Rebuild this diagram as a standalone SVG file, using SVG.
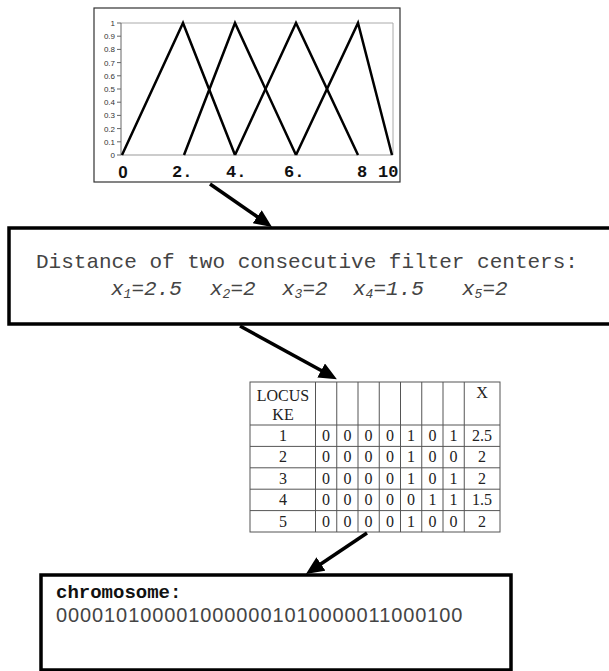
<svg xmlns="http://www.w3.org/2000/svg" width="609" height="671" viewBox="0 0 609 671">
<style>
.ylab{font-family:"Liberation Sans",Arial,sans-serif;font-size:8px;fill:#333;text-anchor:end}
.xlab{font-family:"Liberation Mono","Courier New",monospace;font-size:17px;font-weight:bold;fill:#111}
.tri{fill:none;stroke:#000;stroke-width:2.5;stroke-linejoin:miter}
.mono{font-family:"Liberation Mono","Courier New",monospace;font-size:21px;fill:#444}
.it{font-style:italic}
.sub{font-size:13px}
.cell{font-family:"Liberation Serif","Times New Roman",serif;font-size:16px;fill:#222;text-anchor:middle}
.grid{stroke:#555;stroke-width:1;fill:none}
.box{fill:#fff;stroke:#000;stroke-width:3.5}
.arrow{stroke:#000;stroke-width:3.5;fill:none;marker-end:url(#ah)}
</style>
<defs>
<marker id="ah" markerUnits="userSpaceOnUse" markerWidth="20" markerHeight="16" refX="10" refY="8" orient="auto">
<path d="M0,0 L18,8 L0,16 z" fill="#000"/>
</marker>
</defs>
<rect width="609" height="671" fill="#fff"/>

<g id="chart">
<rect x="94" y="8" width="306" height="174" fill="#fff" stroke="#333" stroke-width="1.2"/>
<path d="M121,23 H393 V155" fill="none" stroke="#aaa" stroke-width="1"/>
<path d="M121,155 H393" fill="none" stroke="#999" stroke-width="1"/>
<path d="M121,23 V155" fill="none" stroke="#666" stroke-width="1"/>
<path d="M117,23H121M117,36.2H121M117,49.4H121M117,62.6H121M117,75.8H121M117,89H121M117,102.2H121M117,115.4H121M117,128.6H121M117,141.8H121M117,155H121" stroke="#666" stroke-width="1"/>
<text class="ylab" x="115" y="26">1</text>
<text class="ylab" x="115" y="39.2">0.9</text>
<text class="ylab" x="115" y="52.4">0.8</text>
<text class="ylab" x="115" y="65.6">0.7</text>
<text class="ylab" x="115" y="78.8">0.6</text>
<text class="ylab" x="115" y="92">0.5</text>
<text class="ylab" x="115" y="105.2">0.4</text>
<text class="ylab" x="115" y="118.4">0.3</text>
<text class="ylab" x="115" y="131.6">0.2</text>
<text class="ylab" x="115" y="144.8">0.1</text>
<text class="ylab" x="115" y="158">0</text>
<polyline class="tri" points="122,155 183,23 235,155"/>
<polyline class="tri" points="184,155 235,23 296,155"/>
<polyline class="tri" points="235,155 296,23 358,155"/>
<polyline class="tri" points="296,155 358,23 392,155"/>
<text x="123" y="178" font-family="Liberation Sans,Arial,sans-serif" font-size="17" font-weight="bold" fill="#111" text-anchor="middle">0</text>
<text class="xlab" x="172" y="177">2.</text>
<text class="xlab" x="226" y="177">4.</text>
<text class="xlab" x="284" y="177">6.</text>
<text class="xlab" x="357" y="177">8</text>
<text class="xlab" x="378" y="177">10</text>
</g>

<g id="distances">
<rect class="box" x="9" y="228" width="620" height="96"/>
<text class="mono" x="36" y="268">Distance of two consecutive filter centers:</text>
<text class="mono it" x="111" y="295">x<tspan class="sub" dy="3">1</tspan><tspan dy="-3">=2.5</tspan></text>
<text class="mono it" x="210" y="295">x<tspan class="sub" dy="3">2</tspan><tspan dy="-3">=2</tspan></text>
<text class="mono it" x="282" y="295">x<tspan class="sub" dy="3">3</tspan><tspan dy="-3">=2</tspan></text>
<text class="mono it" x="353" y="295">x<tspan class="sub" dy="3">4</tspan><tspan dy="-3">=1.5</tspan></text>
<text class="mono it" x="462" y="295">x<tspan class="sub" dy="3">5</tspan><tspan dy="-3">=2</tspan></text>
</g>

<g id="table">
<rect class="grid" x="250" y="382" width="250" height="150" fill="#fff"/>
<path class="grid" d="M250,425H500M250,446.4H500M250,467.8H500M250,489.2H500M250,510.6H500"/>
<path class="grid" d="M315.5,382V532M336.75,382V532M358,382V532M379.25,382V532M400.5,382V532M421.75,382V532M443,382V532M464.25,382V532"/>
<text class="cell" x="283" y="401">LOCUS</text>
<text class="cell" x="283" y="420">KE</text>
<text class="cell" x="482" y="398">X</text>
<g>
<text class="cell" x="283" y="441">1</text>
<text class="cell" x="326" y="441">0</text><text class="cell" x="347.4" y="441">0</text><text class="cell" x="368.6" y="441">0</text><text class="cell" x="389.9" y="441">0</text><text class="cell" x="411.1" y="441">1</text><text class="cell" x="432.4" y="441">0</text><text class="cell" x="453.6" y="441">1</text><text class="cell" x="482" y="441">2.5</text>
<text class="cell" x="283" y="462.4">2</text>
<text class="cell" x="326" y="462.4">0</text><text class="cell" x="347.4" y="462.4">0</text><text class="cell" x="368.6" y="462.4">0</text><text class="cell" x="389.9" y="462.4">0</text><text class="cell" x="411.1" y="462.4">1</text><text class="cell" x="432.4" y="462.4">0</text><text class="cell" x="453.6" y="462.4">0</text><text class="cell" x="482" y="462.4">2</text>
<text class="cell" x="283" y="483.8">3</text>
<text class="cell" x="326" y="483.8">0</text><text class="cell" x="347.4" y="483.8">0</text><text class="cell" x="368.6" y="483.8">0</text><text class="cell" x="389.9" y="483.8">0</text><text class="cell" x="411.1" y="483.8">1</text><text class="cell" x="432.4" y="483.8">0</text><text class="cell" x="453.6" y="483.8">1</text><text class="cell" x="482" y="483.8">2</text>
<text class="cell" x="283" y="505.2">4</text>
<text class="cell" x="326" y="505.2">0</text><text class="cell" x="347.4" y="505.2">0</text><text class="cell" x="368.6" y="505.2">0</text><text class="cell" x="389.9" y="505.2">0</text><text class="cell" x="411.1" y="505.2">0</text><text class="cell" x="432.4" y="505.2">1</text><text class="cell" x="453.6" y="505.2">1</text><text class="cell" x="482" y="505.2">1.5</text>
<text class="cell" x="283" y="526.6">5</text>
<text class="cell" x="326" y="526.6">0</text><text class="cell" x="347.4" y="526.6">0</text><text class="cell" x="368.6" y="526.6">0</text><text class="cell" x="389.9" y="526.6">0</text><text class="cell" x="411.1" y="526.6">1</text><text class="cell" x="432.4" y="526.6">0</text><text class="cell" x="453.6" y="526.6">0</text><text class="cell" x="482" y="526.6">2</text>
</g>
</g>

<g id="chromosome">
<rect class="box" x="41" y="575" width="470" height="95"/>
<text x="56" y="598" font-family="Liberation Mono,Courier New,monospace" font-size="19" font-weight="bold" fill="#111">chromosome:</text>
<text x="56" y="622" font-family="Liberation Sans,Arial,sans-serif" font-size="20" letter-spacing="0.9" fill="#444">0000101000010000001010000011000100</text>
</g>

<g id="connectors">
<line class="arrow" x1="210" y1="184" x2="265.4" y2="222.4"/>
<line class="arrow" x1="240" y1="326" x2="329.9" y2="375.3"/>
<line class="arrow" x1="367" y1="533" x2="312.6" y2="569.5"/>
</g>
</svg>
